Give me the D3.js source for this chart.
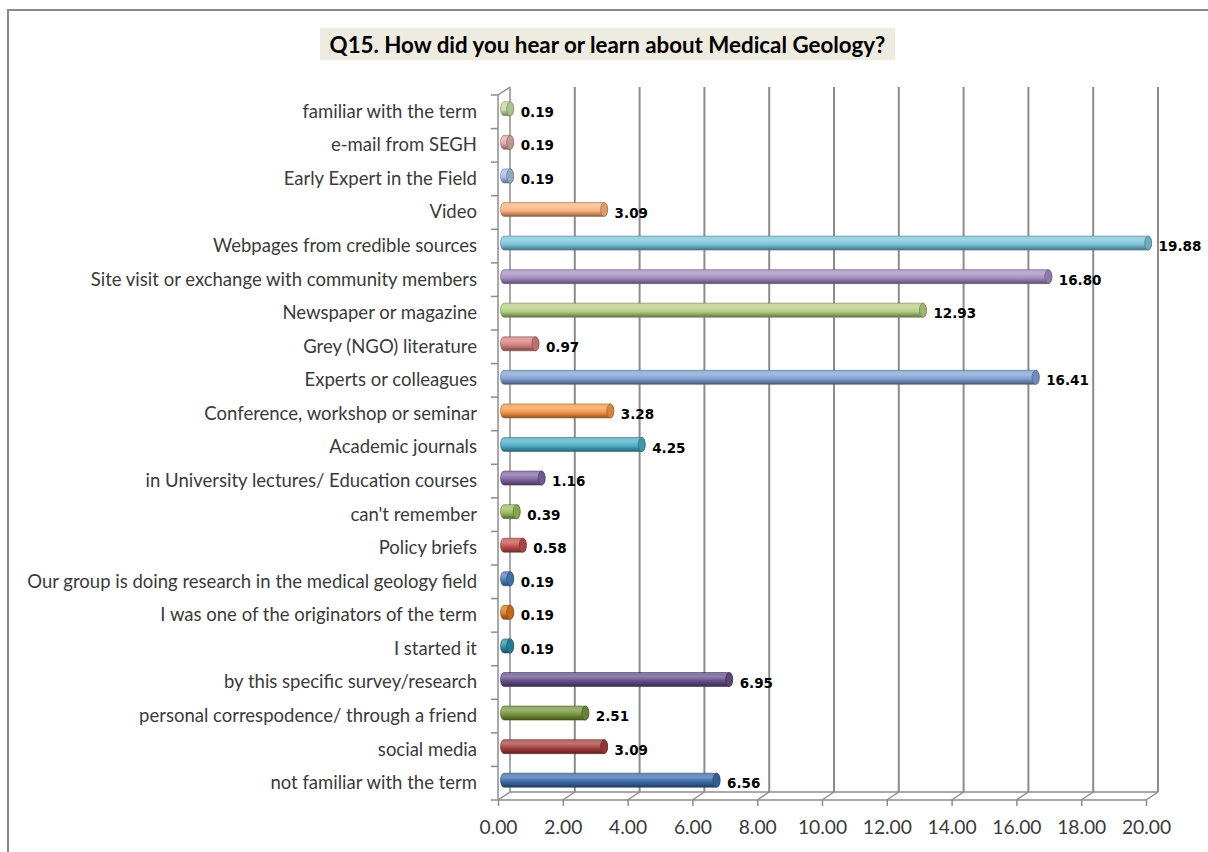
<!DOCTYPE html>
<html>
<head>
<meta charset="utf-8">
<script src="https://cdn.jsdelivr.net/npm/d3@7"></script>
<style>
  html, body { margin: 0; padding: 0; background: #fff; }
  svg { display: block; }
</style>
</head>
<body>
<svg id="chart" width="1208" height="852"></svg>
<script>
// ---- data (bottom to top, as in the chart) ----
const categories = [
  "not familiar with the term",
  "social media",
  "personal correspodence/ through a friend",
  "by this specific survey/research",
  "I started it",
  "I was one of the originators of the term",
  "Our group is doing research in the medical geology field",
  "Policy briefs",
  "can't remember",
  "in University lectures/ Education courses",
  "Academic journals",
  "Conference, workshop or seminar",
  "Experts or colleagues",
  "Grey (NGO) literature",
  "Newspaper or magazine",
  "Site visit or exchange with community members",
  "Webpages from credible sources",
  "Video",
  "Early Expert in the Field",
  "e-mail from SEGH",
  "familiar with the term"
];
const values = [6.56, 3.09, 2.51, 6.95, 0.19, 0.19, 0.19, 0.58, 0.39, 1.16, 4.25, 3.28, 16.41, 0.97, 12.93, 16.80, 19.88, 3.09, 0.19, 0.19, 0.19];
const barColors = [
  "#3D6BA7", "#A43F3C", "#76933C", "#654E89", "#2E8BA6", "#D9771F",
  "#4A7EBB", "#C0504D", "#9BBB59", "#8064A2", "#4BACC6", "#F79646",
  "#7F9FD2", "#D47F7D", "#B4CD80", "#A28CBF", "#7AC4DB", "#F9B07B",
  "#A8BEE0", "#DDA9A8", "#C4D9A3"
];
const xTickValues = [0, 2, 4, 6, 8, 10, 12, 14, 16, 18, 20];
const titleText = "Q15. How did you hear or learn about Medical Geology?";

// ---- layout ----
const svg = d3.select("#chart");
const front = { left: 498, right: 1146, top: 95, bottom: 800 };
const DX = 12, DY = -8;            // depth offset of back wall
const gridColor = "#8C8C8C";
const textColor = "#3A3A3A";
const labelFont = "Lato, 'Open Sans', sans-serif";

const x = d3.scaleLinear().domain([0, 20]).range([front.left, front.right]);
const y = d3.scaleBand().domain(categories.slice().reverse()).range([front.top, front.bottom]).padding(0);

// outer frame
svg.append("rect").attr("x", 8).attr("y", 10).attr("width", 1300).attr("height", 900)
  .attr("fill", "none").attr("stroke", "#8A8A8A").attr("stroke-width", 2);

// title
const titleG = svg.append("g");
titleG.append("rect").attr("x", 320).attr("y", 28).attr("width", 575).attr("height", 32).attr("fill", "#EEECE1");
const title = titleG.append("text").attr("x", 607.5).attr("y", 44).attr("text-anchor", "middle")
  .attr("dominant-baseline", "central").attr("font-family", labelFont).attr("font-weight", "bold")
  .attr("font-size", 19).attr("fill", "#000").text(titleText);
{
  const w = title.node().getComputedTextLength();
  title.attr("font-size", 19 * 556 / w);
}

// back wall gridlines
const grid = svg.append("g");
xTickValues.forEach(v => {
  grid.append("line")
    .attr("x1", x(v) + DX).attr("x2", x(v) + DX)
    .attr("y1", front.top + DY).attr("y2", front.bottom + DY)
    .attr("stroke", gridColor).attr("stroke-width", v === 0 ? 1.5 : 2);
});
// floor back edge
grid.append("line").attr("x1", x(0) + DX).attr("x2", x(20) + DX)
  .attr("y1", front.bottom + DY).attr("y2", front.bottom + DY)
  .attr("stroke", gridColor).attr("stroke-width", 1.5);
// floor depth lines
xTickValues.forEach(v => {
  grid.append("line")
    .attr("x1", x(v)).attr("x2", x(v) + DX)
    .attr("y1", front.bottom).attr("y2", front.bottom + DY)
    .attr("stroke", gridColor).attr("stroke-width", 1.5);
});
// left wall top diagonal
grid.append("line").attr("x1", x(0)).attr("x2", x(0) + DX)
  .attr("y1", front.top).attr("y2", front.top + DY)
  .attr("stroke", gridColor).attr("stroke-width", 1.5);

// ---- bars (cylinders) ----
const defs = svg.append("defs");
const mix = (c, t, k) => d3.interpolateRgb(c, t)(k);
const barH = 14, rx = 3.5;
const data = categories.map((c, i) => ({ cat: c, val: values[i], color: barColors[i], i }));

data.forEach(d => {
  const g = defs.append("linearGradient").attr("id", "g" + d.i)
    .attr("x1", 0).attr("y1", 0).attr("x2", 0).attr("y2", 1);
  g.append("stop").attr("offset", "0%").attr("stop-color", mix(d.color, "#fff", 0.2));
  g.append("stop").attr("offset", "30%").attr("stop-color", mix(d.color, "#fff", 0.28));
  g.append("stop").attr("offset", "60%").attr("stop-color", d.color);
  g.append("stop").attr("offset", "88%").attr("stop-color", mix(d.color, "#000", 0.3));
  g.append("stop").attr("offset", "100%").attr("stop-color", mix(d.color, "#000", 0.45));
});

const bars = svg.append("g");
data.forEach(d => {
  const cy = y(d.cat) + y.bandwidth() / 2 - 3;
  const x0 = x(0) + DX / 2;
  const x1 = x(d.val) + DX / 2;
  const top = cy - barH / 2, bot = cy + barH / 2;
  const ry = barH / 2;
  bars.append("path")
    .attr("d", `M${x0},${top} L${x1},${top} A${rx},${ry} 0 0 1 ${x1},${bot} L${x0},${bot} A${rx},${ry} 0 0 1 ${x0},${top} Z`)
    .attr("fill", `url(#g${d.i})`)
    .attr("stroke", mix(d.color, "#000", 0.35)).attr("stroke-width", 0.6);
  bars.append("ellipse").attr("cx", x1).attr("cy", cy).attr("rx", rx).attr("ry", ry)
    .attr("fill", mix(d.color, "#000", 0.12))
    .attr("stroke", mix(d.color, "#000", 0.4)).attr("stroke-width", 0.6);
  bars.append("text")
    .attr("x", x1 + rx + 7).attr("y", cy + 3)
    .attr("dominant-baseline", "central")
    .attr("font-family", "'DejaVu Sans', Verdana, sans-serif").attr("font-weight", "bold")
    .attr("font-size", 13.5).attr("fill", "#000")
    .text(d3.format(".2f")(d.val));
});

// ---- front axes ----
// x axis (front floor edge)
const xAxis = svg.append("g").attr("transform", `translate(0,${front.bottom})`)
  .call(d3.axisBottom(x).tickValues(xTickValues).tickFormat(d3.format(".2f")).tickSize(6).tickPadding(14));
xAxis.select(".domain").attr("stroke", gridColor).attr("stroke-width", 1.5)
  .attr("d", `M${front.left},0H${front.right}`);
xAxis.selectAll(".tick line").attr("stroke", gridColor).attr("stroke-width", 1.5);
xAxis.selectAll(".tick text").attr("fill", textColor).attr("font-family", labelFont).attr("font-size", 18);
{
  const t = xAxis.select(".tick text").node();
  const w = t.getComputedTextLength();
  xAxis.selectAll(".tick text").attr("font-size", 18 * 38 / w);
}

// y axis (front left edge)
const yAxis = svg.append("g").attr("transform", `translate(${front.left},0)`)
  .call(d3.axisLeft(y).tickSize(0).tickPadding(21));
yAxis.select(".domain").attr("stroke", gridColor).attr("stroke-width", 1.5)
  .attr("d", `M0,${front.top}V${front.bottom}`);
yAxis.selectAll(".tick text").attr("fill", textColor).attr("font-family", labelFont).attr("font-size", 18);
{
  let maxW = 0;
  yAxis.selectAll(".tick text").each(function () { maxW = Math.max(maxW, this.getComputedTextLength()); });
  yAxis.selectAll(".tick text").attr("font-size", 18 * 450 / maxW);
}
// category boundary ticks
const bounds = categories.map(c => y(c)).concat([front.bottom]);
bounds.forEach(b => {
  yAxis.append("line").attr("x1", -7).attr("x2", 0).attr("y1", b).attr("y2", b)
    .attr("stroke", gridColor).attr("stroke-width", 1.5);
});
</script>
</body>
</html>
